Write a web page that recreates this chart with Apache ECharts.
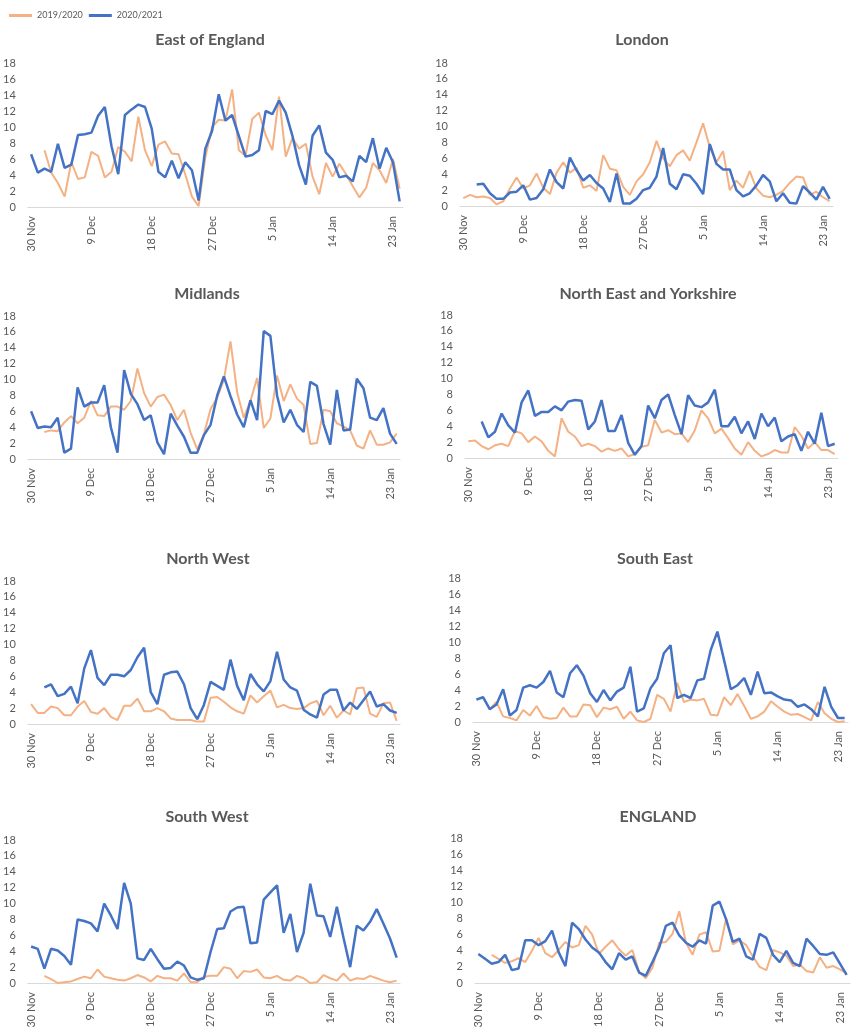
<!DOCTYPE html>
<html><head><meta charset="utf-8">
<script src="https://cdn.jsdelivr.net/npm/echarts@6/dist/echarts.min.js"></script>
<style>html,body{margin:0;padding:0;background:#fff}#c{width:861px;height:1036px}</style>
</head><body><div id="c"></div>
<script>
const dates = ['30 Nov','1 Dec','2 Dec','3 Dec','4 Dec','5 Dec','6 Dec','7 Dec','8 Dec','9 Dec','10 Dec','11 Dec','12 Dec','13 Dec','14 Dec','15 Dec','16 Dec','17 Dec','18 Dec','19 Dec','20 Dec','21 Dec','22 Dec','23 Dec','24 Dec','25 Dec','26 Dec','27 Dec','28 Dec','29 Dec','30 Dec','31 Dec','1 Jan','2 Jan','3 Jan','4 Jan','5 Jan','6 Jan','7 Jan','8 Jan','9 Jan','10 Jan','11 Jan','12 Jan','13 Jan','14 Jan','15 Jan','16 Jan','17 Jan','18 Jan','19 Jan','20 Jan','21 Jan','22 Jan','23 Jan','24 Jan'];
const yTicks = [0,2,4,6,8,10,12,14,16,18];
const seasons = ['2019/2020','2020/2021'];
const regions = ['East of England','London','Midlands','North East and Yorkshire','North West','South East','South West','ENGLAND'];

const eastOfEngland1920 = [null,null,7.1,4.3,3.0,1.3,5.6,3.5,3.7,6.9,6.4,3.7,4.4,7.5,6.9,5.7,11.3,7.1,5.1,7.8,8.2,6.7,6.6,4.1,1.3,0.1,6.2,10.0,10.9,10.8,14.7,7.1,6.4,11.0,11.8,9.0,7.1,13.8,6.3,8.6,7.3,7.9,3.8,1.6,5.5,3.8,5.4,4.1,2.6,1.2,2.4,5.5,4.6,3.0,6.0,2.3];
const eastOfEngland2021 = [6.6,4.3,4.8,4.4,7.9,4.9,5.3,9.0,9.1,9.3,11.4,12.5,7.6,4.1,11.5,12.2,12.8,12.5,9.8,4.4,3.7,5.8,3.6,5.6,4.6,0.8,7.3,9.5,14.1,10.8,11.5,8.9,6.3,6.5,7.1,12.0,11.6,13.3,11.8,8.9,5.2,2.8,8.9,10.2,6.8,5.9,3.7,3.9,3.2,6.4,5.6,8.6,4.8,7.4,5.6,0.7];
const london1920 = [1.0,1.4,1.1,1.2,1.0,0.2,0.6,2.2,3.6,2.2,2.6,4.1,2.3,1.5,4.2,5.5,4.2,4.8,2.3,2.6,1.9,6.4,4.7,4.5,2.4,1.4,3.1,4.0,5.5,8.2,6.0,5.0,6.4,7.0,5.7,8.0,10.4,7.4,5.5,6.9,2.0,3.2,2.3,4.4,2.2,1.3,1.1,1.4,1.9,2.9,3.7,3.6,1.4,1.8,1.1,0.6];
const london2021 = [null,null,2.7,2.8,1.6,0.9,0.9,1.7,1.8,2.6,0.8,1.0,2.1,4.6,3.0,2.2,6.1,4.5,3.2,3.9,2.9,2.2,0.5,4.1,0.3,0.3,0.9,2.0,2.3,3.7,7.3,2.8,2.1,4.0,3.8,2.8,1.5,7.8,5.3,4.6,4.6,2.0,1.2,1.6,2.6,3.9,3.1,0.6,1.6,0.4,0.3,2.5,1.7,0.8,2.4,0.9];
const midlands1920 = [null,null,3.4,3.6,3.5,4.6,5.4,4.5,5.2,7.3,5.5,5.4,6.6,6.6,6.2,7.3,11.4,8.3,6.6,7.8,8.1,6.8,4.9,6.2,3.3,1.2,3.1,6.3,7.7,10.0,14.8,8.4,5.2,7.3,10.2,3.9,5.1,10.5,7.3,9.4,7.6,6.8,1.9,2.0,6.2,6.0,4.5,4.1,3.6,1.7,1.3,3.6,1.8,1.8,2.1,3.2];
const midlands2021 = [6.0,3.9,4.1,4.0,5.2,0.8,1.3,9.0,6.6,7.1,7.1,9.3,4.0,0.8,11.2,8.2,6.9,4.9,5.5,2.1,0.6,5.7,4.2,2.8,0.8,0.8,3.0,4.3,8.0,10.4,7.9,5.6,4.0,7.4,4.9,16.1,15.5,8.0,4.6,6.2,4.3,3.4,9.7,9.2,4.4,1.8,8.7,3.6,3.7,10.1,8.9,5.2,4.9,6.4,3.2,1.9];
const northEastYorkshire1920 = [2.1,2.2,1.5,1.1,1.6,1.8,1.5,3.4,3.1,2.0,2.7,2.1,0.9,0.2,5.0,3.3,2.7,1.5,1.8,1.5,0.8,1.2,0.9,1.2,0.2,0.5,1.4,1.6,4.8,3.2,3.5,3.0,3.1,2.0,3.5,6.0,5.0,3.1,3.7,2.5,1.2,0.4,2.0,0.9,0.2,0.5,1.0,0.7,0.7,3.9,2.8,1.2,2.0,1.0,1.0,0.5];
const northEastYorkshire2021 = [null,null,4.6,2.6,3.3,5.6,4.1,3.2,7.0,8.5,5.3,5.8,5.8,6.5,6.0,7.1,7.3,7.2,3.6,4.6,7.3,3.4,3.4,5.4,1.9,0.4,1.5,6.6,5.0,7.3,8.0,5.4,3.0,7.9,6.6,6.4,7.0,8.6,4.0,4.0,5.2,3.1,4.6,2.4,5.6,4.0,5.1,2.1,2.7,3.0,0.9,3.3,1.8,5.7,1.5,1.8];
const northWest1920 = [2.5,1.4,1.4,2.2,2.0,1.1,1.1,2.2,2.9,1.5,1.3,2.0,0.9,0.5,2.3,2.3,3.2,1.6,1.6,2.0,1.6,0.7,0.5,0.5,0.5,0.3,0.3,3.3,3.4,2.8,2.1,1.6,1.3,3.6,2.7,3.5,4.2,2.1,2.4,2.0,1.9,2.0,2.6,2.9,1.1,2.3,0.8,1.7,1.2,4.5,4.6,1.3,0.9,2.6,2.7,0.4];
const northWest2021 = [null,null,4.6,5.0,3.5,3.8,4.7,2.6,7.0,9.3,5.8,4.9,6.2,6.2,6.0,6.8,8.4,9.6,4.0,2.5,6.2,6.5,6.6,5.0,2.0,0.6,2.4,5.3,4.8,4.3,8.1,4.8,3.0,6.3,5.0,4.1,5.4,9.1,5.6,4.6,4.2,1.8,1.2,0.8,3.7,4.3,4.3,1.7,2.7,1.9,3.0,4.1,2.2,2.5,1.7,1.4];
const southEast1920 = [null,null,1.6,2.5,0.7,0.5,0.2,1.5,0.8,2.0,0.6,0.4,0.5,1.8,0.7,0.7,2.2,2.1,0.6,1.8,1.6,1.9,0.4,1.3,0.2,0.0,0.4,3.4,2.9,1.3,4.9,2.5,2.8,2.7,2.9,0.9,0.8,3.1,2.1,3.5,2.0,0.4,0.7,1.3,2.6,1.9,1.3,0.9,1.0,0.6,0.2,2.5,1.1,0.4,0.0,0.1];
const southEast2021 = [2.8,3.1,1.6,2.2,4.1,0.8,1.5,4.3,4.6,4.3,5.0,6.4,3.7,3.1,6.1,7.1,5.8,3.6,2.5,4.0,2.7,3.8,4.3,6.9,1.3,1.7,4.2,5.4,8.6,9.6,3.0,3.4,3.0,5.2,5.4,9.0,11.3,7.7,4.1,4.6,5.5,3.4,6.3,3.6,3.7,3.2,2.8,2.7,1.9,2.2,1.6,0.7,4.4,1.9,0.5,0.5];
const southWest1920 = [null,null,0.9,0.5,0.0,0.1,0.2,0.5,0.8,0.6,1.7,0.8,0.6,0.4,0.3,0.6,1.0,0.7,0.2,0.9,0.6,0.6,0.3,1.2,0.1,0.1,0.8,0.9,0.9,2.0,1.8,0.6,1.5,1.4,1.7,0.7,0.6,0.9,0.4,0.3,0.9,0.6,0.0,0.1,1.0,0.6,0.3,1.2,0.3,0.6,0.5,0.9,0.6,0.3,0.1,0.3];
const southWest2021 = [4.6,4.3,1.8,4.3,4.1,3.4,2.3,8.0,7.8,7.5,6.5,10.0,8.5,6.8,12.6,10.0,3.1,2.9,4.3,3.0,1.8,1.9,2.7,2.2,0.7,0.4,0.6,3.9,6.8,6.9,9.0,9.5,9.6,5.0,5.1,10.5,11.4,12.3,6.3,8.7,3.9,6.3,12.5,8.5,8.4,5.8,9.6,5.7,2.0,7.2,6.6,7.7,9.3,7.5,5.6,3.2];
const england1920 = [null,null,3.5,3.0,2.5,2.7,3.1,2.6,4.0,5.6,3.7,3.2,4.1,5.1,4.4,4.7,7.1,6.0,3.6,4.5,5.3,4.2,3.4,4.1,1.4,0.6,1.9,5.0,5.1,6.1,8.9,5.0,3.5,6.0,6.3,3.9,4.0,8.0,4.8,5.3,4.7,3.3,2.0,1.6,4.1,3.8,3.4,2.1,2.3,1.5,1.3,3.2,1.9,2.1,1.7,1.2];
const england2021 = [3.6,3.0,2.4,2.6,3.5,1.6,1.8,5.3,5.3,4.7,5.2,6.5,3.8,2.1,7.5,6.7,5.4,4.4,3.8,2.6,1.7,3.7,2.9,3.3,1.3,0.9,2.6,4.4,7.1,7.5,5.9,5.0,4.5,5.3,4.9,9.6,10.1,7.9,5.1,5.5,3.3,2.9,6.1,5.6,3.5,2.6,4.0,2.5,2.1,5.5,4.6,3.6,3.5,3.8,2.4,1.0];

const data1920 = [eastOfEngland1920, london1920, midlands1920, northEastYorkshire1920, northWest1920, southEast1920, southWest1920, england1920];
const data2021 = [eastOfEngland2021, london2021, midlands2021, northEastYorkshire2021, northWest2021, southEast2021, southWest2021, england2021];

// layout: plot boxes [left, top, width, height] and title centre [x, y]
const boxes = [
  [25, 63, 378, 144], [460, 63, 373, 143],
  [25, 316, 375, 143], [465, 315, 373, 143],
  [25, 581, 375, 143], [473, 578, 375, 144],
  [25, 840, 375, 143], [475, 838, 375, 145]
];
const titlePos = [[205, 27], [637, 27], [202, 281], [643, 281], [203, 546], [650, 546], [202, 804], [653, 804]];

const FONT = 'Lato, "Open Sans", sans-serif';
const TXT = '#595959';
const ORANGE = '#F4B183';
const BLUE = '#4472C4';

const grids = [], xAxes = [], yAxes = [], titles = [], series = [];
regions.forEach((name, i) => {
  const b = boxes[i];
  grids.push({left: b[0], top: b[1], width: b[2], height: b[3], containLabel: false});
  titles.push({text: name, left: titlePos[i][0], top: titlePos[i][1], textAlign: 'center',
    textStyle: {fontFamily: FONT, fontSize: 16, fontWeight: 'bold', color: TXT}});
  xAxes.push({type: 'category', gridIndex: i, data: dates, boundaryGap: true,
    axisLine: {lineStyle: {color: '#d9d9d9', width: 1}}, axisTick: {show: false},
    axisLabel: {interval: 8, rotate: 90, margin: 9, color: TXT, fontSize: 11, fontFamily: FONT}});
  yAxes.push({type: 'value', gridIndex: i, min: yTicks[0], max: yTicks[yTicks.length - 1], interval: 2,
    splitLine: {show: false}, axisLine: {show: false}, axisTick: {show: false},
    axisLabel: {color: TXT, fontSize: 11, fontFamily: FONT, margin: 12}});
  series.push({name: seasons[0], type: 'line', xAxisIndex: i, yAxisIndex: i, data: data1920[i],
    showSymbol: false, symbol: 'none', lineStyle: {color: ORANGE, width: 2}, itemStyle: {color: ORANGE}, z: 2});
  series.push({name: seasons[1], type: 'line', xAxisIndex: i, yAxisIndex: i, data: data2021[i],
    showSymbol: false, symbol: 'none', lineStyle: {color: BLUE, width: 2.5}, itemStyle: {color: BLUE}, z: 3});
});

const chart = echarts.init(document.getElementById('c'), null, {renderer: 'canvas'});
chart.setOption({
  animation: false,
  backgroundColor: '#fff',
  title: titles,
  legend: {data: seasons, left: 4, top: 6, icon: 'rect', itemWidth: 23, itemHeight: 3, itemGap: 6,
    textStyle: {color: TXT, fontSize: 9, fontFamily: FONT}},
  grid: grids, xAxis: xAxes, yAxis: yAxes, series: series
});
</script></body></html>
